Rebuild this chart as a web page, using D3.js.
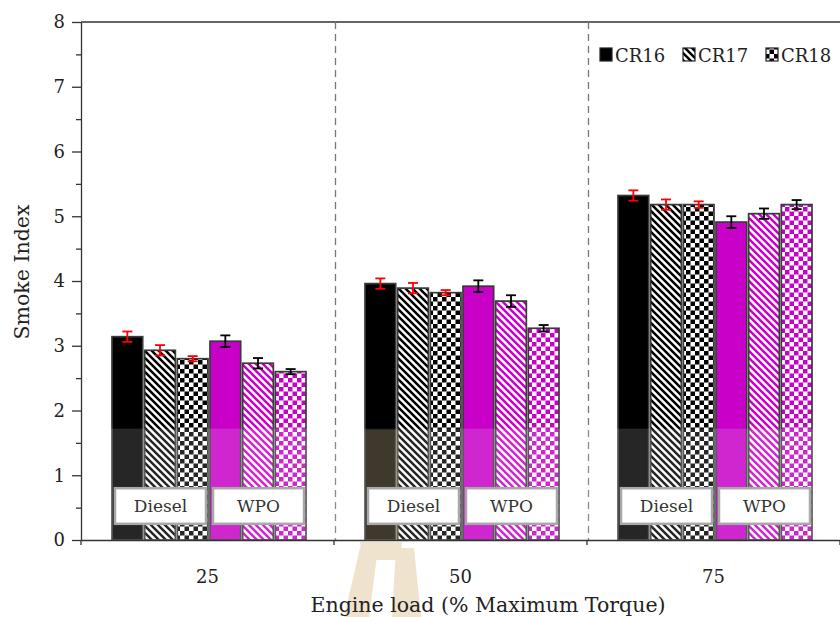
<!DOCTYPE html>
<html>
<head>
<meta charset="utf-8">
<script src="https://cdn.jsdelivr.net/npm/d3@7/dist/d3.min.js"></script>
<style>
  body { margin: 0; background: #fff; }
  text { font-family: "DejaVu Serif", serif; fill: #222; }
</style>
</head>
<body>
<svg id="chart" width="840" height="617"></svg>
<script>
// Engine load groups and the two fuels
const loads = ["25", "50", "75"];
const fuels = ["Diesel", "WPO"];
const ratios = ["CR16", "CR17", "CR18"];
const yTicks = [0, 1, 2, 3, 4, 5, 6, 7, 8];

// Smoke index per load (25, 50, 75 %)
const dieselCR16 = [3.14, 3.96, 5.32];
const dieselCR17 = [2.93, 3.89, 5.18];
const dieselCR18 = [2.80, 3.82, 5.18];
const wpoCR16 = [3.07, 3.92, 4.91];
const wpoCR17 = [2.73, 3.69, 5.04];
const wpoCR18 = [2.60, 3.27, 5.18];

// Error bar half-widths
const dieselCR16Err = [0.08, 0.08, 0.08];
const dieselCR17Err = [0.08, 0.08, 0.08];
const dieselCR18Err = [0.04, 0.04, 0.05];
const wpoCR16Err = [0.09, 0.09, 0.09];
const wpoCR17Err = [0.08, 0.09, 0.08];
const wpoCR18Err = [0.04, 0.05, 0.07];

const series = [
  { fuel: "Diesel", cr: "CR16", values: dieselCR16, err: dieselCR16Err },
  { fuel: "Diesel", cr: "CR17", values: dieselCR17, err: dieselCR17Err },
  { fuel: "Diesel", cr: "CR18", values: dieselCR18, err: dieselCR18Err },
  { fuel: "WPO", cr: "CR16", values: wpoCR16, err: wpoCR16Err },
  { fuel: "WPO", cr: "CR17", values: wpoCR17, err: wpoCR17Err },
  { fuel: "WPO", cr: "CR18", values: wpoCR18, err: wpoCR18Err }
];

const fuelColor = { Diesel: "#000000", WPO: "#c800c8" };
const errColor = { Diesel: "#ff0000", WPO: "#000000" };

const svg = d3.select("#chart");
const plotLeft = 81, plotRight = 840, plotTop = 22, plotBottom = 540;

const y = d3.scaleLinear().domain([0, 8]).range([plotBottom, plotTop]);
const x0 = d3.scaleBand().domain(loads).range([plotLeft, plotRight]);
const x1 = d3.scaleBand().domain(d3.range(series.length)).range([31, 225]).paddingInner(0.06);

// Fill patterns: diagonal hatch and checkerboard in each fuel colour
const defs = svg.append("defs");
fuels.forEach(f => {
  const c = fuelColor[f];
  const h = defs.append("pattern").attr("id", "hatch-" + f)
    .attr("patternUnits", "userSpaceOnUse").attr("width", 7).attr("height", 7);
  h.append("rect").attr("width", 7).attr("height", 7).attr("fill", "#fff");
  h.append("path").attr("d", "M-2,5 L2,9 M0,0 L7,7 M5,-2 L9,2")
    .attr("stroke", c).attr("stroke-width", 2.5);
  const k = defs.append("pattern").attr("id", "check-" + f)
    .attr("patternUnits", "userSpaceOnUse").attr("width", 9).attr("height", 9);
  k.append("rect").attr("width", 9).attr("height", 9).attr("fill", "#fff");
  k.append("rect").attr("width", 4.5).attr("height", 4.5).attr("fill", c);
  k.append("rect").attr("x", 4.5).attr("y", 4.5).attr("width", 4.5).attr("height", 4.5).attr("fill", c);
});
function fillFor(fuel, cr) {
  if (cr === "CR16") return fuelColor[fuel];
  if (cr === "CR17") return "url(#hatch-" + fuel + ")";
  return "url(#check-" + fuel + ")";
}

// Frame: top line and dashed group separators
svg.append("line").attr("x1", plotLeft).attr("x2", plotRight).attr("y1", y(8)).attr("y2", y(8))
  .attr("stroke", "#333").attr("stroke-width", 1.3);
loads.slice(1).forEach(l => {
  svg.append("line").attr("x1", x0(l) + 1.5).attr("x2", x0(l) + 1.5).attr("y1", y(8)).attr("y2", y(0))
    .attr("stroke", "#777").attr("stroke-width", 1.3).attr("stroke-dasharray", "7,5");
});

// Drawing layers, bottom to top
const barLayer = svg.append("g");
const hazeLayer = svg.append("g");
const markLayer = svg.append("g");
const errLayer = svg.append("g");
const boxLayer = svg.append("g");

// Bars
loads.forEach((l, li) => {
  const g = barLayer.append("g").attr("transform", `translate(${x0(l)},0)`);
  g.selectAll("rect").data(series).join("rect")
    .attr("x", (s, si) => x1(si)).attr("width", x1.bandwidth())
    .attr("y", s => y(s.values[li])).attr("height", s => y(0) - y(s.values[li]))
    .attr("fill", s => fillFor(s.fuel, s.cr))
    .attr("stroke", "#3a3a3a").attr("stroke-width", 1.7);
});

// Light haze band across the lower part of the plot
hazeLayer.append("rect").attr("x", plotLeft + 1).attr("width", plotRight - plotLeft)
  .attr("y", y(1.72)).attr("height", y(0) - y(1.72))
  .attr("fill", "#fff").attr("opacity", 0.15);

// Watermark emblem near the axis
markLayer.attr("fill", "#c9a35a");
markLayer.append("path").attr("opacity", 0.16)
  .attr("d", "M366,430 L399,430 L399,540 L366,540 Z");
markLayer.append("path").attr("opacity", 0.3)
  .attr("d", "M344,617 L360,548 L378,548 L369,617 Z M392,617 L396,548 L414,548 L421,617 Z M360,542 L402,542 L400,560 L362,560 Z");

// Error bars
loads.forEach((l, li) => {
  const g = errLayer.append("g").attr("transform", `translate(${x0(l)},0)`);
  series.forEach((s, si) => {
    const cx = x1(si) + x1.bandwidth() / 2;
    const hi = y(s.values[li] + s.err[li]), lo = y(s.values[li] - s.err[li]);
    const eg = g.append("g").attr("stroke", errColor[s.fuel]).attr("stroke-width", 1.8);
    eg.append("line").attr("x1", cx).attr("x2", cx).attr("y1", hi).attr("y2", lo);
    eg.append("line").attr("x1", cx - 5).attr("x2", cx + 5).attr("y1", hi).attr("y2", hi);
    eg.append("line").attr("x1", cx - 5).attr("x2", cx + 5).attr("y1", lo).attr("y2", lo);
  });
});

// Fuel label boxes inside each group
loads.forEach(l => {
  const g = boxLayer.append("g").attr("transform", `translate(${x0(l)},0)`);
  fuels.forEach((f, fi) => {
    const a = x1(fi * 3) + 3, b = x1(fi * 3 + 2) + x1.bandwidth() - 2;
    g.append("rect").attr("x", a).attr("width", b - a)
      .attr("y", y(0.8)).attr("height", y(0.25) - y(0.8))
      .attr("fill", "#fff").attr("stroke", "#a8a8a8").attr("stroke-width", 2.5);
    g.append("text").attr("x", (a + b) / 2).attr("y", (y(0.8) + y(0.25)) / 2)
      .attr("dy", "0.36em").attr("text-anchor", "middle")
      .style("font-size", "17px").style("fill", "#333").text(f);
  });
});

// Y axis with major and minor ticks
const gy = svg.append("g").attr("transform", `translate(${plotLeft},0)`)
  .call(d3.axisLeft(y).tickValues(yTicks).tickFormat(d3.format("d"))
    .tickSize(9).tickPadding(7).tickSizeOuter(0));
gy.append("g").call(d3.axisLeft(y).tickValues(d3.range(0.5, 8, 1)).tickSize(5).tickFormat(""))
  .select(".domain").remove();
gy.selectAll("text").style("font-size", "18px").style("fill", "#222");
gy.selectAll("path, line").attr("stroke", "#333").attr("stroke-width", 1.3);

// X axis: labels at group centres, ticks at group boundaries
const gx = svg.append("g").attr("transform", `translate(0,${plotBottom})`)
  .call(d3.axisBottom(x0).tickSize(0).tickPadding(30).tickSizeOuter(0));
gx.selectAll("text").style("font-size", "18px").style("fill", "#222");
gx.select(".domain").attr("stroke", "#333").attr("stroke-width", 1.3);
const bounds = loads.map(l => x0(l)).concat([plotRight]);
gx.selectAll(".bound").data(bounds).join("line").attr("class", "bound")
  .attr("x1", d => d).attr("x2", d => d).attr("y1", 0).attr("y2", 5)
  .attr("stroke", "#333").attr("stroke-width", 1.3);

// Axis titles
svg.append("text").attr("x", 488).attr("y", 612).attr("text-anchor", "middle")
  .style("font-size", "20.5px").text("Engine load (% Maximum Torque)");
svg.append("text").attr("transform", "translate(29,272) rotate(-90)")
  .attr("text-anchor", "middle").style("font-size", "20.5px").text("Smoke Index");

// Legend
const legendX = [600, 683, 766];
const lg = svg.append("g");
ratios.forEach((r, i) => {
  lg.append("rect").attr("x", legendX[i]).attr("y", 48).attr("width", 12).attr("height", 13)
    .attr("fill", fillFor("Diesel", r)).attr("stroke", "#222").attr("stroke-width", 1.2);
  lg.append("text").attr("x", legendX[i] + 15).attr("y", 62)
    .style("font-size", "18px").text(r);
});
</script>
</body>
</html>
